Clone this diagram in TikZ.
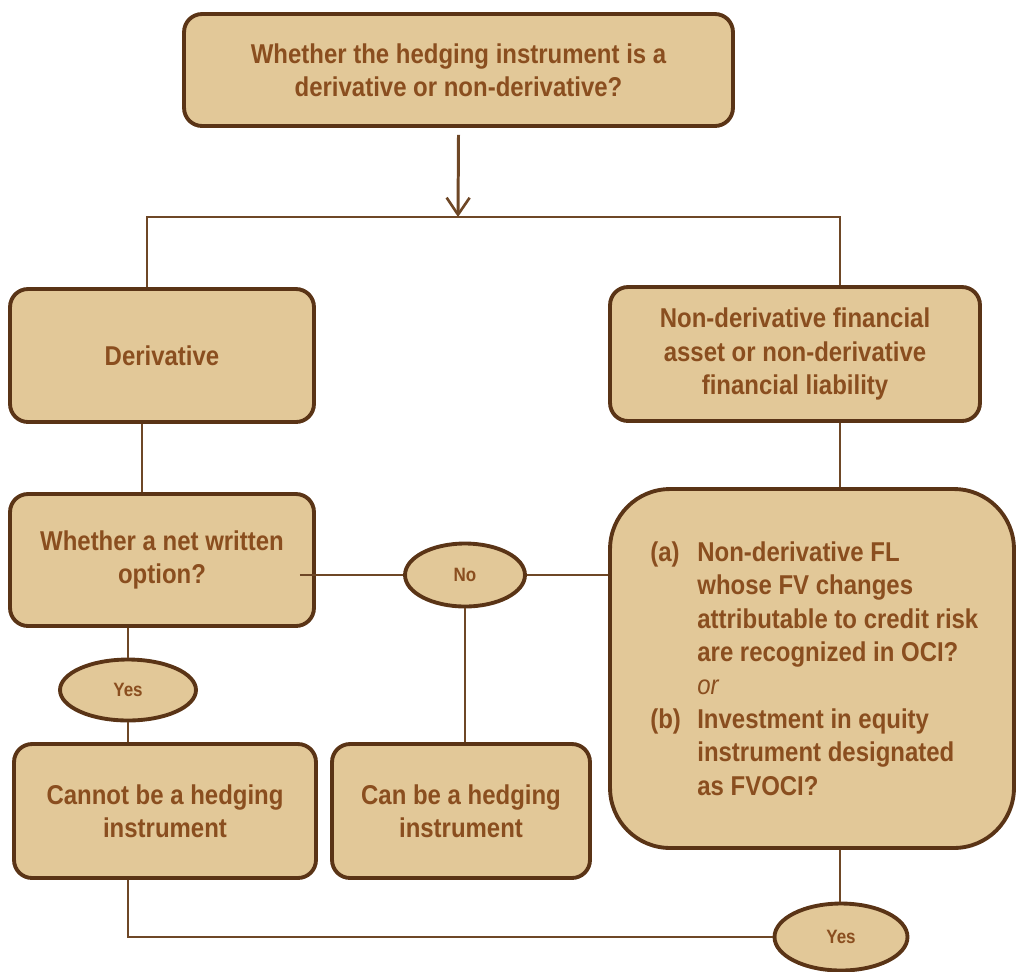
\documentclass[tikz,border=0pt]{standalone}
\usepackage{fontspec}
\setmainfont{Liberation Sans}[FakeStretch=0.88]
\usetikzlibrary{arrows.meta,shapes.geometric}
\definecolor{boxfill}{HTML}{E2C898}
\definecolor{boxline}{HTML}{5A3416}
\definecolor{txt}{HTML}{8A4E1F}
\definecolor{connc}{HTML}{6E4726}
\begin{document}
\begin{tikzpicture}[x=0.02cm,y=-0.02cm,
  box/.style={draw=boxline, fill=boxfill, line width=2.2pt, rounded corners=0.36cm,
    text=txt, font=\bfseries\fontsize{15.5}{19}\selectfont, align=center, inner sep=0pt},
  oval/.style={ellipse, draw=boxline, fill=boxfill, line width=2.2pt, text=txt,
    font=\bfseries\fontsize{11}{12}\selectfont, inner sep=0pt},
  conn/.style={draw=connc, line width=0.8pt},
  bigtxt/.style={text=txt, font=\bfseries\fontsize{15.5}{19.05}\selectfont, align=left, inner sep=0pt}]
\useasboundingbox (0,0) rectangle (1016,971);

\node[box, minimum width=10.98cm, minimum height=2.24cm] (top) at (458.5,70)
  {Whether the hedging instrument is a\\derivative or non-derivative?};
\node[box, minimum width=6.08cm, minimum height=2.66cm] (deriv) at (162,355.5) {Derivative};
\node[box, minimum width=7.4cm, minimum height=2.68cm] (nonderiv) at (795,354)
  {Non-derivative financial\\asset or non-derivative\\financial liability};
\node[box, minimum width=6.08cm, minimum height=2.64cm] (netw) at (162,560)
  {Whether a net written\\option?};
\node[box, minimum width=6.04cm, minimum height=2.68cm] (cannot) at (165,811)
  {Cannot be a hedging\\instrument};
\node[box, minimum width=5.16cm, minimum height=2.68cm] (can) at (461,811)
  {Can be a hedging\\instrument};
\node[box, rounded corners=1.2cm, minimum width=8.08cm, minimum height=7.18cm] (big) at (812,668.5) {};
\node[bigtxt, anchor=west] (bigtext) at (650,668.5)
  {\makebox[0.94cm][l]{(a)}Non-derivative FL\\
   \hspace*{0.94cm}whose FV changes\\
   \hspace*{0.94cm}attributable to credit risk\\
   \hspace*{0.94cm}are recognized in OCI?\\
   \hspace*{0.94cm}{\mdseries\itshape or}\\
   \makebox[0.94cm][l]{(b)}Investment in equity\\
   \hspace*{0.94cm}instrument designated\\
   \hspace*{0.94cm}as FVOCI?};
\node[oval, minimum width=2.4cm, minimum height=1.26cm] (no) at (465,575) {No};
\node[oval, minimum width=2.72cm, minimum height=1.22cm] (yes1) at (128,690) {Yes};
\node[oval, minimum width=2.66cm, minimum height=1.34cm] (yes2) at (841,937) {Yes};

\coordinate (split) at (458,217);
\coordinate (lt) at (147,217);
\coordinate (rt) at (840,217);

\draw[conn, line width=1.7pt, -{Straight Barb[length=0.34cm,width=0.46cm,line width=1.5pt]}]
  ([yshift=-0.14cm]top.south) -- (split);
\draw[conn] (deriv.north -| lt) -- (lt) -- (rt) -- (nonderiv.north -| rt);
\draw[conn] ([xshift=-0.4cm]deriv.south) -- ([xshift=-0.4cm]netw.north);
\draw[conn] (netw.south -| yes1) -- (yes1.north);
\draw[conn] (yes1.south) -- (cannot.north -| yes1);
\draw[conn] ([xshift=-0.32cm]netw.east |- no.west) -- (no.west);
\draw[conn] (no.east) -- (big.west |- no.east);
\draw[conn] (no.south) -- (can.north -| no.south);
\draw[conn] (nonderiv.south -| rt) -- (big.north -| rt);
\draw[conn] (big.south -| rt) -- (yes2.north -| rt);
\draw[conn] (cannot.south -| yes1) |- (yes2.west);
\end{tikzpicture}
\end{document}
